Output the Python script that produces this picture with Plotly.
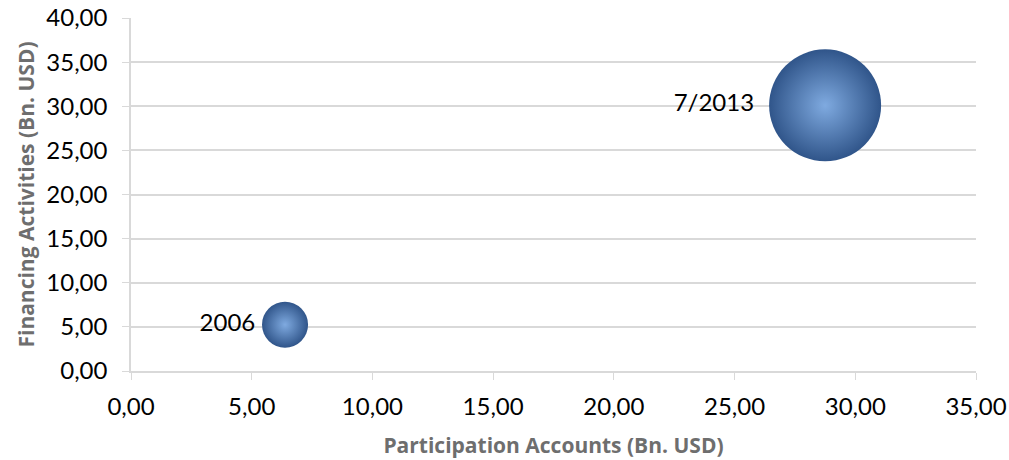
import plotly.graph_objects as go

# Data
labels = ["2006", "7/2013"]
participation_accounts = [6.38, 28.75]   # x, Bn. USD
financing_activities = [5.25, 30.1]      # y, Bn. USD
bubble_values = [6.0, 35.5]              # bubble size (relative)

x_ticks = [0, 5, 10, 15, 20, 25, 30, 35]
y_ticks = [0, 5, 10, 15, 20, 25, 30, 35, 40]

FONT = "Lato, 'Open Sans', sans-serif"
TFONT = "'Open Sans', Lato, sans-serif"
max_diam = 112
sizeref = 2.0 * max(bubble_values) / (max_diam ** 2)

fig = go.Figure()
fig.add_trace(go.Scatter(
    x=participation_accounts,
    y=financing_activities,
    mode="markers+text",
    text=labels,
    textposition="middle left",
    textfont=dict(family=FONT, size=24, color="#000000"),
    marker=dict(
        size=bubble_values,
        sizemode="area",
        sizeref=sizeref,
        color="#30558A",
        opacity=1,
        line=dict(width=0),
        gradient=dict(type="radial", color="#7FAAE0"),
    ),
    cliponaxis=False,
    hoverinfo="x+y+text",
    showlegend=False,
))

fig.update_layout(
    width=1009,
    height=460,
    margin=dict(l=131, r=33, t=18, b=89),
    paper_bgcolor="white",
    plot_bgcolor="white",
    separators=",.",
    font=dict(family=FONT, size=24, color="#000000"),
    xaxis=dict(
        range=[0, 35],
        tickvals=x_ticks,
        tickformat=".2f",
        automargin=False,
        showgrid=False,
        zeroline=False,
        showline=True,
        linecolor="#D9D9D9",
        linewidth=1.5,
        ticks="outside",
        ticklen=7,
        tickcolor="#D9D9D9",
        ticklabelstandoff=6,
        tickfont=dict(family=FONT, size=24, color="#000000"),
        title=dict(text="Participation Accounts (Bn. USD)",
                   font=dict(family=TFONT, size=21, color="#6E6E6E", weight="bold"),
                   standoff=20),
    ),
    yaxis=dict(
        range=[0, 40],
        tickvals=y_ticks,
        tickformat=".2f",
        automargin=False,
        showgrid=True,
        gridcolor="#D9D9D9",
        gridwidth=1.5,
        zeroline=False,
        showline=True,
        linecolor="#D9D9D9",
        linewidth=1.5,
        ticks="outside",
        ticklen=7,
        tickcolor="#D9D9D9",
        ticklabelstandoff=10,
        tickfont=dict(family=FONT, size=24, color="#000000"),
        title=dict(text="Financing Activities (Bn. USD)",
                   font=dict(family=TFONT, size=21, color="#6E6E6E", weight="bold"),
                   standoff=6),
    ),
)

fig.write_html("out.html")
